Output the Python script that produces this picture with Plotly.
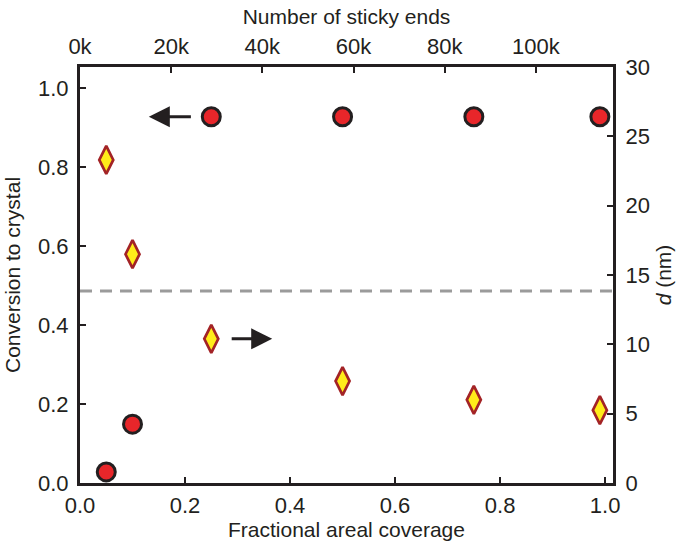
import plotly.graph_objects as go

# Data
coverage_conv = [0.05, 0.10, 0.25, 0.50, 0.75, 0.99]
conversion = [0.028, 0.149, 0.927, 0.927, 0.927, 0.927]
coverage_d = [0.05, 0.10, 0.25, 0.50, 0.75, 0.99]
d_nm = [23.3, 16.5, 10.4, 7.35, 6.0, 5.25]
threshold_conv = 0.486
sticky_ends_per_coverage_k = 115.2  # thousands of sticky ends at full coverage

x_range = [0, 1.015]
bottom_ticks = [0, 0.2, 0.4, 0.6, 0.8, 1.0]
top_ticks_k = [0, 20, 40, 60, 80, 100]
top_tick_labels = ["0k", "20k", "40k", "60k", "80k", "100k"]
left_ticks = [0, 0.2, 0.4, 0.6, 0.8, 1.0]
right_ticks = [0, 5, 10, 15, 20, 25, 30]

FONT = "Liberation Sans, Arial, Helvetica, sans-serif"
TXT = "#231f20"
FS_TICK = 22
FS_TITLE = 21

fig = go.Figure()
fig.add_trace(go.Scatter(
    x=coverage_conv, y=conversion, mode="markers", yaxis="y", xaxis="x",
    marker=dict(symbol="circle", size=18, color="#e8262a",
                line=dict(color="#231f20", width=3)),
    showlegend=False, hoverinfo="skip", cliponaxis=False))
fig.add_trace(go.Scatter(
    x=coverage_d, y=d_nm, mode="markers", yaxis="y2", xaxis="x",
    marker=dict(symbol="diamond-tall", size=20, color="#ffec1a",
                line=dict(color="#a32326", width=2.7)),
    showlegend=False, hoverinfo="skip", cliponaxis=False))
# invisible trace to anchor top axis
fig.add_trace(go.Scatter(
    x=[top_ticks_k[0]], y=[0], xaxis="x2", yaxis="y", mode="markers",
    marker=dict(opacity=0), showlegend=False, hoverinfo="skip"))

fig.add_shape(type="line", xref="paper", x0=0, x1=1, yref="y",
              y0=threshold_conv, y1=threshold_conv,
              line=dict(color="#9b9b9b", width=3, dash="12px,8px"))

# arrows
fig.add_annotation(x=0.131, y=conversion[2], ax=0.214, ay=conversion[2],
                   xref="x", yref="y", axref="x", ayref="y", text="",
                   showarrow=True, arrowhead=2, arrowsize=1.4, arrowwidth=3,
                   arrowcolor="#231f20")
fig.add_annotation(x=0.366, y=d_nm[2], ax=0.286, ay=d_nm[2],
                   xref="x", yref="y2", axref="x", ayref="y2", text="",
                   showarrow=True, arrowhead=2, arrowsize=1.4, arrowwidth=3,
                   arrowcolor="#231f20")

axis_common = dict(showline=True, linecolor="#231f20", linewidth=3,
                   ticks="inside", ticklen=6, tickwidth=2, tickcolor="#231f20",
                   showgrid=False, zeroline=False, automargin=False,
                   tickfont=dict(family=FONT, size=FS_TICK, color=TXT))
title_font = dict(family=FONT, size=FS_TITLE, color=TXT)

fig.update_layout(
    width=685, height=548,
    margin=dict(l=80, r=72, t=67, b=65),
    paper_bgcolor="white", plot_bgcolor="white",
    font=dict(family=FONT, color=TXT, size=FS_TICK),
    xaxis=dict(range=x_range, tickvals=bottom_ticks, tickformat=".1f",
               ticklabelstandoff=1,
               title=dict(text="Fractional areal coverage", standoff=4,
                          font=title_font),
               **axis_common),
    xaxis2=dict(overlaying="x", side="top",
                range=[x_range[0] * sticky_ends_per_coverage_k,
                       x_range[1] * sticky_ends_per_coverage_k],
                tickvals=top_ticks_k, ticktext=top_tick_labels,
                ticklabelstandoff=1,
                title=dict(text="Number of sticky ends", standoff=4,
                           font=title_font),
                **axis_common),
    yaxis=dict(range=[0, 1.053], tickvals=left_ticks, tickformat=".1f",
               ticklabelstandoff=4,
               title=dict(text="Conversion to crystal", standoff=12,
                          font=title_font),
               **axis_common),
    yaxis2=dict(overlaying="y", side="right", range=[0, 30],
                tickvals=right_ticks, ticklabelstandoff=5,
                title=dict(text="<i>d</i> (nm)", standoff=8,
                           font=title_font),
                **axis_common),
)

fig.write_html("out.html",
               config={"displayModeBar": False},
               post_script="document.body.style.margin='0px';"
                           "document.body.style.padding='0px';")
